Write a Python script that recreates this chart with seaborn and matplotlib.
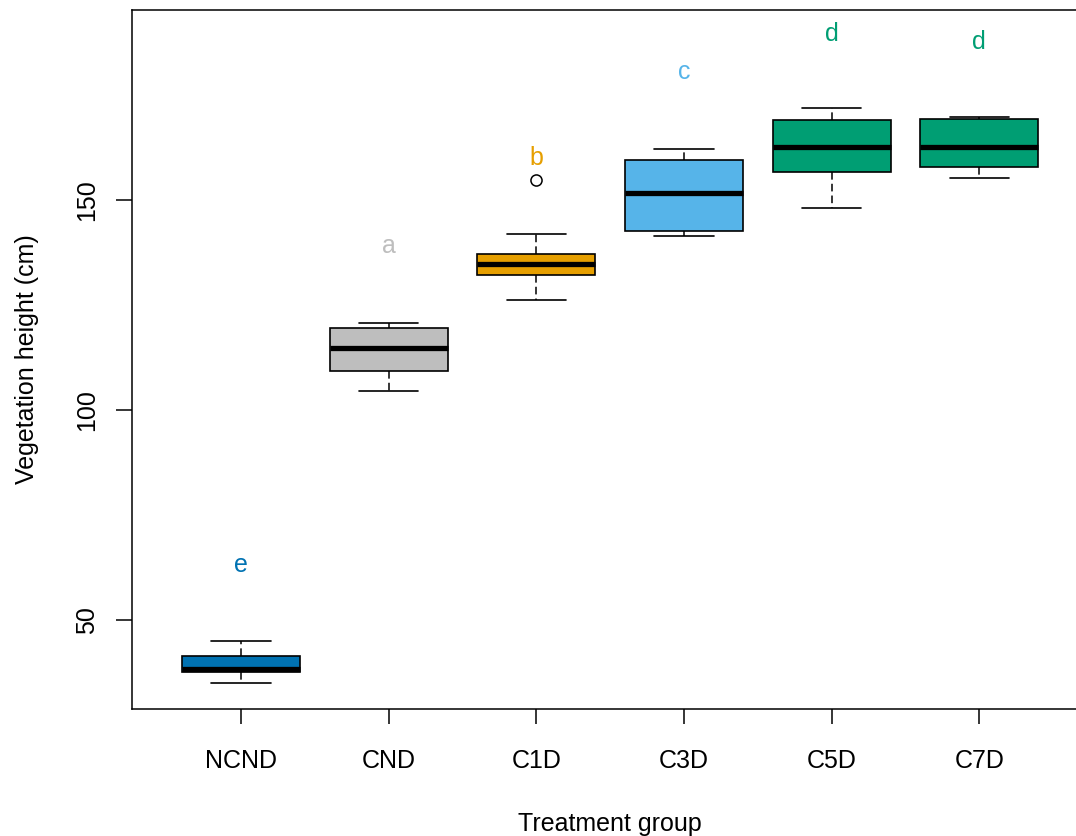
import numpy as np
import pandas as pd
import matplotlib
matplotlib.use("Agg")
import matplotlib.pyplot as plt
import seaborn as sns

# ---- data ----
groups = ["NCND", "CND", "C1D", "C3D", "C5D", "C7D"]
ncnd = [35.1, 37.7, 38.4, 41.4, 45.0]
cnd = [104.6, 109.3, 114.8, 119.4, 120.6]
c1d = [126.1, 130.0, 132.1, 133.5, 134.8, 136.0, 137.1, 141.9, 154.8]
c3d = [141.4, 142.6, 151.6, 159.4, 162.2]
c5d = [148.1, 156.7, 162.6, 169.1, 171.9]
c7d = [155.2, 157.9, 162.6, 169.2, 169.7]
letters = ["e", "a", "b", "c", "d", "d"]
letter_y = [61.4, 137.3, 158.3, 178.8, 187.9, 186.0]
colors = ["#0072B2", "#BEBEBE", "#E69F00", "#56B4E9", "#009E73", "#009E73"]
yticks = [50, 100, 150]

values = [ncnd, cnd, c1d, c3d, c5d, c7d]
df = pd.DataFrame({
    "group": [g for g, v in zip(groups, values) for _ in v],
    "height": [x for v in values for x in v],
})

sns.set_theme(style="white")
plt.rcParams["font.family"] = ["Liberation Sans", "DejaVu Sans"]
plt.rcParams["text.color"] = "black"
plt.rcParams["axes.labelcolor"] = "black"
plt.rcParams["xtick.color"] = "black"
plt.rcParams["ytick.color"] = "black"

W, H = 1076, 836
fig = plt.figure(figsize=(W / 100, H / 100), dpi=100)
left_px, right_px, top_px, bottom_px = 131.7, 1088.6, 10.0, 709.0
ax = fig.add_axes([left_px / W, (H - bottom_px) / H,
                   (right_px - left_px) / W, (bottom_px - top_px) / H])

sns.boxplot(
    data=df, x="group", y="height", hue="group", order=groups, hue_order=groups,
    palette=dict(zip(groups, colors)), saturation=1, width=0.8, whis=1.5,
    linecolor="black", linewidth=1.2, fliersize=8, legend=False, ax=ax,
    medianprops=dict(linewidth=3.8, color="black", solid_capstyle="butt"),
    whiskerprops=dict(linestyle=(0, (5, 2.7)), linewidth=1.1, color="black"),
    capprops=dict(linewidth=1.2, color="black"),
    flierprops=dict(marker="o", markerfacecolor="none", markeredgecolor="black",
                    markeredgewidth=1.1),
)

for i, (lab, yy, c) in enumerate(zip(letters, letter_y, colors)):
    ax.text(i, yy, lab, color=c, fontsize=18, ha="center", va="baseline")

ax.set_xlim(-0.74, 5.74)
ax.set_ylim(28.8, 195.2)
ax.set_yticks(yticks)
ax.set_yticklabels([str(t) for t in yticks], rotation=90, va="center")

for s in ax.spines.values():
    s.set_visible(True)
    s.set_color("black")
    s.set_linewidth(1.1)

ax.tick_params(axis="x", length=11, width=1.1, color="black", pad=17.5,
               labelsize=18, labelcolor="black", bottom=True, direction="out")
ax.tick_params(axis="y", length=11.5, width=1.1, color="black", pad=12,
               labelsize=18, labelcolor="black", left=True, direction="out")

ax.set_xlabel("Treatment group", fontsize=18, color="black")
ax.set_ylabel("Vegetation height (cm)", fontsize=18, color="black")
ax.xaxis.set_label_coords(0.5, (bottom_px - 812) / (bottom_px - top_px))
ax.yaxis.set_label_coords((39 - left_px) / (right_px - left_px), 0.5)

fig.savefig("out.png", dpi=100)
